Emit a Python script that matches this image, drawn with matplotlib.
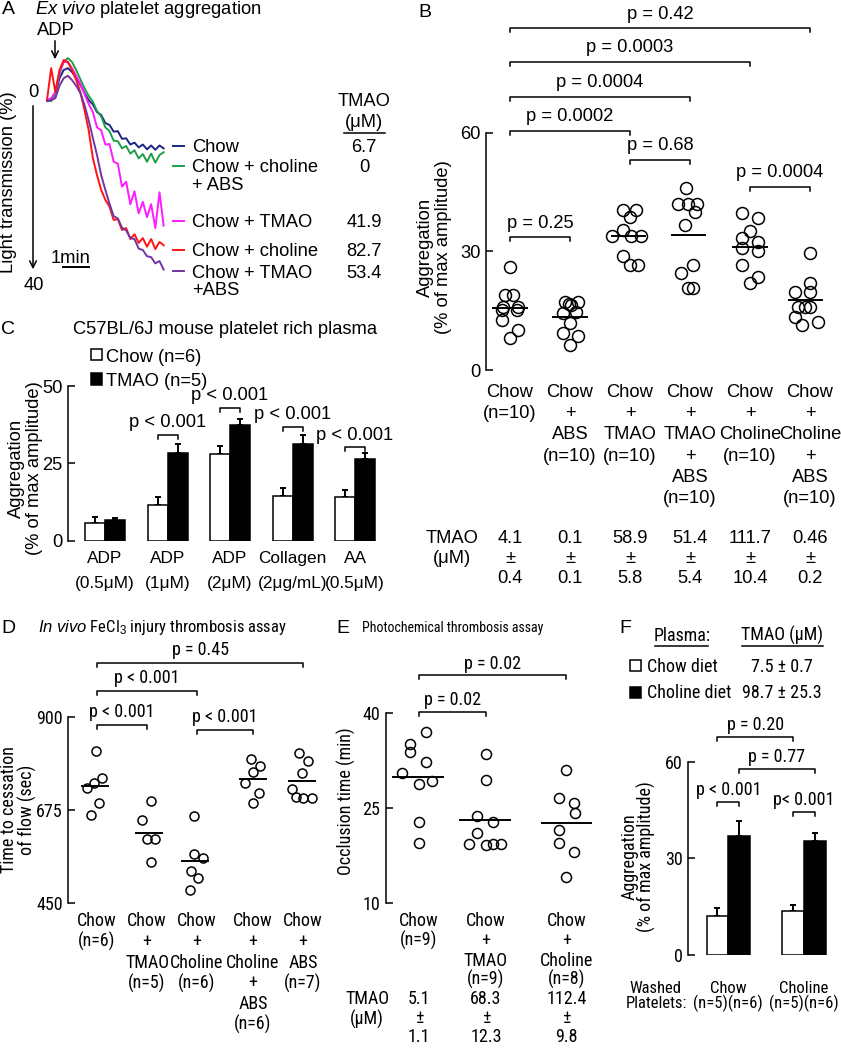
import numpy as np
import matplotlib
matplotlib.use('Agg')
import matplotlib.pyplot as plt
from matplotlib.lines import Line2D
from matplotlib.patches import Rectangle, FancyArrowPatch
from matplotlib import transforms, font_manager

plt.rcParams['font.family'] = ['Liberation Sans', 'DejaVu Sans']
plt.rcParams['mathtext.fontset'] = 'custom'
plt.rcParams['mathtext.rm'] = 'Liberation Sans'
plt.rcParams['mathtext.it'] = 'Liberation Sans:italic'

REG = ['Liberation Sans', 'DejaVu Sans']
FS = 13.2

# panels D-F use a narrow face in the original; use one if it is installed
_names = {f.name for f in font_manager.fontManager.ttflist}
NARROW, NFS = REG, 11
for cand in ['Liberation Sans Narrow', 'Arial Narrow', 'Roboto Condensed', 'Open Sans Condensed']:
    if cand in _names:
        NARROW, NFS = [cand, 'Liberation Sans', 'DejaVu Sans'], 13
        break

# ---------------- data ----------------
# A: ex vivo aggregation traces (time in s, light transmission in %)
a_time = [0, 10, 20, 30, 40, 50, 60, 70, 80, 90, 100, 110, 120, 130, 140,
          150, 160, 170, 180, 190, 200, 210, 220, 230, 240, 250, 260, 270, 280]
a_chow = [1.7, 1.7, 0.6, -2.9, -4.6, -5.0, -4.2, -2.9, -1.5, 0.2, 1.7, 2.6, 4.2, 4.8, 6.5,
          6.9, 8.3, 8.2, 9.8, 9.7, 11.0, 10.6, 11.6, 11.0, 12.0, 11.2, 12.1, 11.2, 11.8]
a_chol_abs = [1.9, 1.9, 0.4, -3.8, -6.3, -7.1, -6.3, -4.6, -2.7, -0.8, 0.8, 2.0, 4.0, 5.1, 7.4,
              8.2, 10.2, 10.3, 11.8, 11.3, 12.9, 12.2, 13.9, 13.0, 14.6, 12.9, 14.8, 13.2, 12.6]
a_tmao = [1.7, 1.3, 0.0, -4.2, -6.3, -6.3, -5.0, -3.4, -1.7, 0.4, 2.5, 4.2, 7.4, 8.0, 11.0,
          10.9, 14.6, 15.0, 19.8, 18.8, 23.5, 20.8, 25.4, 23.0, 26.2, 23.5, 28.5, 21.0, 28.0]
a_chol = [1.7, -5.0, 0.0, -4.6, -6.7, -6.3, -4.6, -2.5, 0.0, 3.8, 8.0, 13.8, 17.4, 20.5, 22.6,
          24.0, 26.8, 26.6, 28.9, 28.5, 30.8, 29.8, 31.6, 30.6, 32.4, 30.8, 32.9, 31.4, 32.1]
a_tmao_abs = [1.9, 1.7, 1.3, -1.3, -2.9, -3.4, -2.5, -1.3, 0.2, 2.7, 5.9, 9.6, 13.2, 17.4, 20.5,
              23.4, 26.0, 26.5, 28.4, 29.0, 30.6, 30.8, 32.8, 33.1, 34.4, 34.6, 35.9, 35.4, 37.2]
a_labels = ['Chow', 'Chow + choline\n+ ABS', 'Chow + TMAO', 'Chow + choline', 'Chow + TMAO\n+ABS']
a_tmao_um = ['6.7', '0', '41.9', '82.7', '53.4']

# B: aggregation (% of max amplitude)
b_groups = ['Chow\n(n=10)', 'Chow\n+\nABS\n(n=10)', 'Chow\n+\nTMAO\n(n=10)',
            'Chow\n+\nTMAO\n+\nABS\n(n=10)', 'Chow\n+\nCholine\n(n=10)',
            'Chow\n+\nCholine\n+\nABS\n(n=10)']
b_chow = [26.0, 19.0, 19.0, 16.0, 16.0, 15.2, 15.2, 12.7, 10.1, 8.1]
b_abs = [17.2, 17.2, 16.8, 16.5, 14.4, 14.7, 11.9, 9.4, 8.6, 6.3]
b_tmao = [40.5, 40.5, 38.7, 35.4, 33.9, 33.9, 33.9, 28.9, 26.6, 26.6]
b_tmao_abs = [46.0, 42.0, 42.0, 42.0, 40.0, 36.7, 24.6, 26.6, 20.7, 20.7]
b_chol = [39.7, 38.4, 35.2, 33.3, 32.5, 30.8, 30.0, 26.6, 22.1, 23.5]
b_chol_abs = [29.5, 22.1, 19.8, 19.8, 15.9, 15.9, 15.9, 13.5, 12.2, 11.4]
b_tmao_mean = ['4.1', '0.1', '58.9', '51.4', '111.7', '0.46']
b_tmao_sem = ['0.4', '0.1', '5.8', '5.4', '10.4', '0.2']

# C: platelet rich plasma, mean and error
c_groups = ['ADP\n(0.5\u03bcM)', 'ADP\n(1\u03bcM)', 'ADP\n(2\u03bcM)', 'Collagen\n(2\u03bcg/mL)', 'AA\n(0.5\u03bcM)']
c_chow = [5.8, 11.6, 28.1, 14.5, 14.0]
c_chow_err = [2.0, 2.4, 2.5, 2.5, 2.4]
c_tmao = [6.7, 28.5, 37.4, 31.3, 26.3]
c_tmao_err = [0.6, 2.7, 1.8, 2.8, 2.2]

# D: time to cessation of flow (sec)
d_groups = ['Chow\n(n=6)', 'Chow\n+\nTMAO\n(n=5)', 'Chow\n+\nCholine\n(n=6)',
            'Chow\n+\nCholine\n+\nABS\n(n=6)', 'Chow\n+\nABS\n(n=7)']
d_chow = [818, 727, 739, 753, 693, 663]
d_tmao = [696, 650, 604, 604, 549]
d_chol = [660, 570, 560, 528, 510, 482]
d_chol_abs = [798, 780, 766, 740, 716, 692]
d_abs = [812, 792, 764, 726, 706, 704, 704]

# E: occlusion time (min)
e_groups = ['Chow\n(n=9)', 'Chow\n+\nTMAO\n(n=9)', 'Chow\n+\nCholine\n(n=8)']
e_chow = [37.1, 35.2, 33.9, 32.3, 30.5, 28.8, 29.3, 22.9, 19.6]
e_tmao = [33.6, 29.4, 23.8, 22.9, 21.1, 19.4, 19.2, 19.4, 19.4]
e_chol = [31.0, 26.6, 25.8, 24.2, 21.6, 19.6, 18.1, 14.2]
e_tmao_mean = ['5.1', '68.3', '112.4']
e_tmao_sem = ['1.1', '12.3', '9.8']

# F: washed platelets
f_groups = ['Chow', 'Choline']
f_chow_plasma = [12.1, 13.8]
f_chow_plasma_err = [2.4, 1.7]
f_chol_plasma = [37.0, 35.5]
f_chol_plasma_err = [4.7, 2.5]

# ---------------- layout helpers ----------------
W, H = 841, 1050
fig = plt.figure(figsize=(W / 100, H / 100), dpi=100)


def px_axes(l, t, r, b):
    return fig.add_axes([l / W, 1 - b / H, (r - l) / W, (b - t) / H])


def ftext(x, y, s, **kw):
    kw.setdefault('ha', 'center')
    kw.setdefault('va', 'baseline')
    kw.setdefault('fontsize', FS)
    fig.text(x / W, 1 - y / H, s, **kw)


def ntext(x, y, s, **kw):
    kw.setdefault('fontsize', NFS)
    ftext(x, y, s, family=NARROW, **kw)


def fline(xs, ys, **kw):
    kw.setdefault('color', 'k')
    kw.setdefault('lw', 1.1)
    fig.add_artist(Line2D([x / W for x in xs], [1 - y / H for y in ys],
                          transform=fig.transFigure, **kw))


def farrow(x0, y0, x1, y1):
    fig.add_artist(FancyArrowPatch((x0 / W, 1 - y0 / H), (x1 / W, 1 - y1 / H),
                                   transform=fig.transFigure, arrowstyle='->',
                                   mutation_scale=12, lw=1.1, color='k'))


def fsquare(x, y, filled):
    s = 11
    fig.add_artist(Rectangle(((x - s / 2) / W, 1 - (y + s / 2) / H), s / W, s / H,
                             transform=fig.transFigure, fc='k' if filled else 'w',
                             ec='k', lw=1.1))


def style_axes(ax, lo, hi, ticks, fam, size):
    for s in ['top', 'right', 'bottom']:
        ax.spines[s].set_visible(False)
    ax.spines['left'].set_bounds(lo, hi)
    ax.spines['left'].set_linewidth(1.1)
    ax.set_yticks(ticks)
    ax.set_xticks([])
    ax.tick_params(axis='y', direction='in', length=5, width=1.1, labelsize=size, pad=4)
    for lbl in ax.get_yticklabels():
        lbl.set_family(fam)
    ax.patch.set_visible(False)


def col_text(ax, x, ybase, text, step, fam, size):
    tr = transforms.blended_transform_factory(ax.transData, fig.transFigure)
    for k, line in enumerate(text.split('\n')):
        ax.text(x, 1 - (ybase + k * step) / H, line, transform=tr, ha='center',
                va='baseline', fontsize=size, family=fam, clip_on=False)


def bracket(ax, x0, x1, y, label, tick, off, fam, size):
    ax.plot([x0, x0, x1, x1], [y - tick, y, y, y - tick], color='k', lw=1.1, clip_on=False)
    ax.annotate(label, ((x0 + x1) / 2, y), xytext=(0, off), textcoords='offset points',
                ha='center', va='baseline', fontsize=size, family=fam, annotation_clip=False)


def dots(ax, pos, vals, offs, ms, hw):
    vals = np.asarray(vals, float)
    offs = np.asarray(offs, float)
    ax.plot(pos + offs, vals, 'o', mfc='none', mec='k', mew=1.1, ms=ms, ls='none', clip_on=False)
    c = pos + offs.mean()
    ax.plot([c - hw, c + hw], [vals.mean()] * 2, color='k', lw=1.4)


# ---------------- panel A ----------------
ftext(8.5, 14, 'A', fontsize=14)
ftext(35, 13.5, r'$\mathit{Ex\ vivo}$ platelet aggregation', ha='left')
axA = px_axes(40, 50, 170, 290)
axA.set_xlim(-16.8, 295.2)
axA.set_ylim(41.47, -8.8)
axA.axis('off')
a_colors = ['#1c2585', '#1f9e48', '#ff1aff', '#ff1414', '#7434a4']
a_series = [a_chow, a_chol_abs, a_tmao, a_chol, a_tmao_abs]
for ser, c in zip(a_series, a_colors):
    axA.plot(a_time, ser, color=c, lw=1.4)

ftext(56, 35, 'ADP')
farrow(55, 38, 55, 62)
ftext(33.5, 97, '0')
ftext(33.5, 290, '40')
farrow(33, 103, 33, 272)
ftext(9, 182, 'Light transmission (%)', rotation=90, va='center')
ftext(71, 263, '1min')
fline([63, 89], [266.5, 266.5], lw=1.4)

a_base = [152, 172, 227, 256, 277.5]
for lab, val, c, yb in zip(a_labels, a_tmao_um, a_colors, a_base):
    fline([172.5, 183.5], [yb - 6.5, yb - 6.5], color=c, lw=1.4)
    for k, line in enumerate(lab.split('\n')):
        ftext(192, yb + k * 18, line, ha='left')
    ftext(364, yb, val)
ftext(364, 106, 'TMAO')
ftext(364, 127, '(\u03bcM)')
fline([344, 385], [132.5, 132.5])

# ---------------- panel B ----------------
ftext(425, 17, 'B', fontsize=14)
axB = px_axes(486, 14, 835, 370)
axB.set_xlim(-0.4, 5.417)
axB.set_ylim(0, 90.1)
style_axes(axB, 0, 60, [0, 30, 60], REG, FS)
b_sets = [b_chow, b_abs, b_tmao, b_tmao_abs, b_chol, b_chol_abs]
b_offs = [[0, -0.08, 0.05, -0.12, 0.13, -0.13, 0.12, -0.13, 0.13, 0.0],
          [-0.08, 0.13, -0.02, 0.02, -0.12, 0.1, 0.0, -0.12, 0.13, 0.0],
          [-0.12, 0.1, 0.0, -0.12, -0.3, 0.02, 0.18, -0.12, 0.0, 0.13],
          [-0.07, -0.2, -0.03, 0.12, 0.08, -0.08, -0.15, 0.05, -0.03, 0.05],
          [-0.14, 0.13, 0, -0.14, 0.13, -0.14, 0.13, -0.14, 0, 0.13],
          [0, 0, 0, -0.25, -0.2, -0.08, 0.0, -0.25, 0.13, -0.13]]
for i, (vals, offs) in enumerate(zip(b_sets, b_offs)):
    dots(axB, i, vals, offs, 8.6, 0.28)
for i, lab in enumerate(b_groups):
    col_text(axB, i, 397, lab, 21.2, REG, FS)
for i, (m, s) in enumerate(zip(b_tmao_mean, b_tmao_sem)):
    col_text(axB, i, 543, m + '\n\u00b1\n' + s, 20, REG, FS)
ftext(452, 543, 'TMAO')
ftext(452, 563, '(\u03bcM)')
ftext(425, 247, 'Aggregation', rotation=90, va='center')
ftext(444, 247, '(% of max amplitude)', rotation=90, va='center')
for i0, i1, y, lab in [(0, 1, 33.6, 'p = 0.25'), (2, 3, 53.2, 'p = 0.68'),
                       (4, 5, 46.4, 'p = 0.0004'), (0, 2, 60.6, 'p = 0.0002'),
                       (0, 3, 69.2, 'p = 0.0004'), (0, 4, 78.0, 'p = 0.0003'),
                       (0, 5, 86.5, 'p = 0.42')]:
    bracket(axB, i0, i1, y, lab, 1.0, 7, REG, FS)

# ---------------- panel C ----------------
ftext(8.5, 334, 'C', fontsize=14)
ftext(225, 334, 'C57BL/6J mouse platelet rich plasma')
fsquare(96, 355, False)
ftext(106, 361.5, 'Chow (n=6)', ha='left')
fsquare(96, 379, True)
ftext(106, 385.5, 'TMAO (n=5)', ha='left')
axC = px_axes(68, 386, 395, 540.7)
axC.set_xlim(-0.592, 4.64)
axC.set_ylim(0, 50)
style_axes(axC, 0, 50, [0, 25, 50], REG, FS)
xc = np.arange(len(c_groups))
bw = 0.32
axC.errorbar(xc - bw / 2, c_chow, yerr=[np.zeros(len(xc)), c_chow_err], fmt='none',
             ecolor='k', elinewidth=1.4, capsize=2.5, capthick=1.4, zorder=1)
axC.errorbar(xc + bw / 2, c_tmao, yerr=[np.zeros(len(xc)), c_tmao_err], fmt='none',
             ecolor='k', elinewidth=1.4, capsize=2.5, capthick=1.4, zorder=1)
axC.bar(xc - bw / 2, c_chow, bw, color='w', edgecolor='k', lw=1.1, zorder=2)
axC.bar(xc + bw / 2, c_tmao, bw, color='k', edgecolor='k', lw=1.1, zorder=2)
for i, lab in enumerate(c_groups):
    col_text(axC, i, 563, lab, 25, REG, 12.4)
ftext(16, 468, 'Aggregation', rotation=90, va='center')
ftext(35, 468, '(% of max amplitude)', rotation=90, va='center')
for i, y in [(1, 34.2), (2, 43.0), (3, 36.8), (4, 30.2)]:
    bracket(axC, i - bw / 2, i + bw / 2, y, 'p < 0.001', 1.3, 5.5, REG, FS)

# ---------------- panel D ----------------
ftext(8.5, 633, 'D', fontsize=14)
ntext(38, 632, r'$\mathit{In\ vivo}$ FeCl$_3$ injury thrombosis assay', ha='left',
      fontsize=NFS - 1)
axD = px_axes(68.3, 640, 330, 903.3)
axD.set_xlim(-0.574, 4.66)
axD.set_ylim(450, 1085)
style_axes(axD, 450, 900, [450, 675, 900], NARROW, NFS)
d_xpos = [0, 1, 2, 3.12, 4.12]
d_sets = [d_chow, d_tmao, d_chol, d_chol_abs, d_abs]
d_offs = [[-0.03, -0.21, -0.07, 0.09, 0.04, -0.12],
          [0.07, -0.1, 0.0, 0.15, 0.08],
          [-0.06, -0.06, 0.12, -0.12, 0.02, -0.14],
          [-0.04, 0.14, 0.0, -0.17, 0.12, 0.0],
          [-0.08, 0.1, -0.02, -0.23, -0.14, 0.0, 0.17]]
for p, vals, offs in zip(d_xpos, d_sets, d_offs):
    dots(axD, p, vals, offs, 6.5, 0.26)
for p, lab in zip(d_xpos, d_groups):
    col_text(axD, p, 926.5, lab, 20.6, NARROW, NFS)
ntext(9, 810, 'Time to cessation', rotation=90, va='center')
ntext(27, 810, 'of flow (sec)', rotation=90, va='center')
for i0, i1, y, lab in [(0, 4, 1030, 'p = 0.45'), (0, 2, 963, 'p < 0.001'),
                       (0, 1, 880, 'p < 0.001'), (2, 3, 868, 'p < 0.001')]:
    bracket(axD, d_xpos[i0], d_xpos[i1], y, lab, 9.6, 5.5, NARROW, NFS)

# ---------------- panel E ----------------
ftext(343, 633, 'E', fontsize=14)
ntext(362, 632, 'Photochemical thrombosis assay', ha='left', fontsize=10)
axE = px_axes(385.7, 650, 600, 903.3)
axE.set_xlim(-0.495, 2.70)
axE.set_ylim(10, 50)
style_axes(axE, 10, 40, [10, 25, 40], NARROW, NFS)
e_xpos = [0, 1, 2.2]
e_sets = [e_chow, e_tmao, e_chol]
e_offs = [[0.1, -0.13, -0.13, 0.1, -0.25, 0, 0.2, 0, 0],
          [0, 0, -0.13, 0.1, -0.13, -0.25, 0, 0.1, 0.22],
          [0, -0.11, 0.11, 0.12, -0.11, -0.11, 0.11, 0]]
for p, vals, offs in zip(e_xpos, e_sets, e_offs):
    dots(axE, p, vals, offs, 7.2, 0.37)
for p, lab in zip(e_xpos, e_groups):
    col_text(axE, p, 926.5, lab, 19.5, NARROW, NFS)
for p, m, s in zip(e_xpos, e_tmao_mean, e_tmao_sem):
    col_text(axE, p, 1004, m + '\n\u00b1\n' + s, 19, NARROW, NFS)
ntext(367, 1004, 'TMAO')
ntext(367, 1025, '(\u03bcM)')
ntext(346, 801, 'Occlusion time (min)', rotation=90, va='center')
for i0, i1, y, lab in [(0, 2, 46.05, 'p = 0.02'), (0, 1, 40.25, 'p = 0.02')]:
    bracket(axE, e_xpos[i0], e_xpos[i1], y, lab, 0.63, 4.5, NARROW, NFS)

# ---------------- panel F ----------------
ftext(625, 633, 'F', fontsize=14)
ntext(681.7, 641, 'Plasma:')
fline([655, 708], [646, 646])
ntext(781.7, 641, 'TMAO (\u03bcM)')
fline([741.7, 823], [646, 646])
fsquare(635, 665, False)
ntext(647, 671.5, 'Chow diet', ha='left')
ntext(781.7, 671.5, '7.5 \u00b1 0.7')
fsquare(635, 692, True)
ntext(647, 698.5, 'Choline diet', ha='left')
ntext(781.7, 698.5, '98.7 \u00b1 25.3')

axF = px_axes(688.3, 720, 835, 955)
axF.set_xlim(-0.528, 1.41)
axF.set_ylim(0, 73)
style_axes(axF, 0, 60, [0, 30, 60], NARROW, NFS)
xf = np.arange(len(f_groups))
fw = 0.287
axF.errorbar(xf - fw / 2, f_chow_plasma, yerr=[np.zeros(2), f_chow_plasma_err], fmt='none',
             ecolor='k', elinewidth=1.4, capsize=2.5, capthick=1.4, zorder=1)
axF.errorbar(xf + fw / 2, f_chol_plasma, yerr=[np.zeros(2), f_chol_plasma_err], fmt='none',
             ecolor='k', elinewidth=1.4, capsize=2.5, capthick=1.4, zorder=1)
axF.bar(xf - fw / 2, f_chow_plasma, fw, color='w', edgecolor='k', lw=1.1, zorder=2)
axF.bar(xf + fw / 2, f_chol_plasma, fw, color='k', edgecolor='k', lw=1.1, zorder=2)
for i, lab in enumerate(f_groups):
    col_text(axF, i, 993, lab + '\n(n=5)(n=6)', 15, NARROW, NFS - 1)
ntext(655, 993, 'Washed', fontsize=NFS - 1)
ntext(656, 1008, 'Platelets:', fontsize=NFS - 1)
ntext(629.5, 857, 'Aggregation', rotation=90, va='center')
ntext(646.5, 857, '(% of max amplitude)', rotation=90, va='center')
for x0, x1, y, lab in [(-fw / 2, 1 - fw / 2, 67.8, 'p = 0.20'),
                       (fw / 2, 1 + fw / 2, 57.7, 'p = 0.77'),
                       (-fw / 2, fw / 2, 47.6, 'p < 0.001'),
                       (1 - fw / 2, 1 + fw / 2, 44.5, 'p< 0.001')]:
    bracket(axF, x0, x1, y, lab, 1.24, 5, NARROW, NFS)

fig.savefig('out.png', dpi=100)
